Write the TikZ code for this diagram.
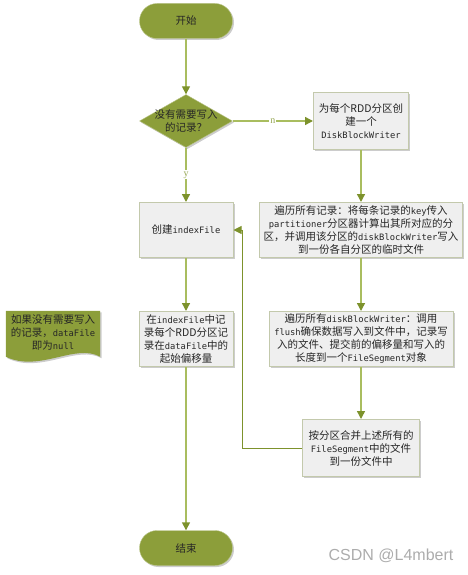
\documentclass[tikz,border=0pt]{standalone}
\usepackage{fontspec}
\setmainfont{Noto Sans CJK SC}
\setmonofont{DejaVu Sans Mono}
\newfontfamily\tagfont{Liberation Serif}
\newfontfamily\markfont{Liberation Sans}
\usetikzlibrary{arrows.meta,shapes.geometric,shadows,backgrounds,calc}

\definecolor{leaf}{HTML}{8C9E3A}
\definecolor{twig}{HTML}{A9BD5F}
\definecolor{tip}{HTML}{7D922C}
\definecolor{paper}{HTML}{EFEFEF}
\definecolor{rim}{HTML}{C3C9AC}
\definecolor{ink}{HTML}{262626}

\newcommand{\mono}[1]{{\fontsize{8.8}{13}\selectfont\ttfamily #1}}

\begin{document}
\begin{tikzpicture}[->,>={Triangle[width=8pt,length=8pt,color=tip]},x=1pt,y=-1pt,
                    node distance=109pt,font=\fontsize{10.5}{13}\selectfont]

  \useasboundingbox (0,0) rectangle (468,575);

  \tikzstyle{every node}=[text=ink]
  \tikzstyle{shade}=[drop shadow={shadow xshift=1.5pt,shadow yshift=-1.5pt,fill=black,opacity=.2}]
  \tikzstyle{terminal}=[rectangle,rounded corners=17.5pt,fill=leaf,draw=leaf!60!white,
                        minimum width=93pt,minimum height=35pt,shade]
  \tikzstyle{decision}=[diamond,fill=leaf,draw=leaf!60!white,inner sep=0pt,
                        minimum width=93pt,minimum height=53pt,shade]
  \tikzstyle{stepbox}=[rectangle,fill=paper,draw=rim,line width=1pt,align=center,
                       minimum height=55pt,inner sep=2pt,shade]
  \tikzstyle{flow}=[draw=twig,line width=1.4pt]
  \tikzstyle{back}=[draw=tip,line width=0.9pt]
  \tikzstyle{tag}=[fill=white,inner sep=1pt,text=tip!80!white,font=\fontsize{10}{10}\selectfont\tagfont]

  \node[terminal] (start) at (186,21)                     {开始};
  \node[decision] (empty) [below of=start,node distance=100pt,
                           label={[align=center]center:没有需要写入\\的记录？}] {};
  \node[stepbox,minimum width=95pt,minimum height=57pt] (writer) [right of=empty,node distance=175pt]
        {为每个RDD分区创\\建一个\\\mono{DiskBlockWriter}};

  \node[stepbox,minimum width=94pt] (index) [below of=empty] {创建\mono{indexFile}};
  \node[stepbox,minimum width=203pt] (spill) [below of=writer]
        {遍历所有记录：将每条记录的\mono{key}传入\\
         \mono{partitioner}分区器计算出其所对应的分\\
         区，并调用该分区的\mono{diskBlockWriter}写入\\
         到一份各自分区的临时文件};

  \node[stepbox,minimum width=94pt] (offset) [below of=index]
        {在\mono{indexFile}中记\\录每个RDD分区记\\录在\mono{dataFile}中的\\起始偏移量};
  \node[stepbox,minimum width=184pt] (flush) [below of=spill]
        {遍历所有\mono{diskBlockWriter}：调用\\
         \mono{flush}确保数据写入到文件中，记录写\\
         入的文件、提交前的偏移量和写入的\\
         长度到一个\mono{FileSegment}对象};

  \node[stepbox,minimum width=117pt,minimum height=57pt] (merge) [below of=flush]
        {按分区合并上述所有的\\\mono{FileSegment}中的文件\\到一份文件中};
  \node[terminal] (stop) [below of=offset,node distance=209pt] {结束};

  % note beside the flow
  \node[align=center,minimum width=94pt,minimum height=44pt] (note) [left of=offset,node distance=133pt,yshift=6pt]
        {如果没有需要写入\\的记录，\mono{dataFile}\\即为\mono{null}};
  \begin{scope}[on background layer]
    \fill[leaf,shade] (note.north west) -- (note.north east) -- ($(note.north east)+(0,46)$)
      .. controls ($(note.north east)+(-25,32)$) and ($(note.north west)+(34,62)$) .. ($(note.north west)+(0,46)$)
      -- cycle;
  \end{scope}

  \path
  (start)  edge [flow]           (empty)
  (empty)  edge [flow]           node [tag] {n} (writer)
  (empty)  edge [flow]           node [tag] {y} (index)
  (writer) edge [flow]           (spill)
  (spill)  edge [flow]           (flush)
  (flush)  edge [flow]           (merge)
  (index)  edge [flow]           (offset)
  (offset) edge [flow]           (stop)
  ;
  \draw[back] (merge.west) -- ++(-60,0) |- (index.east);

  \node[text=gray!65,font=\fontsize{16}{16}\selectfont\markfont] (mark) at (391,556) {CSDN @L4mbert};
\end{tikzpicture}
\end{document}
